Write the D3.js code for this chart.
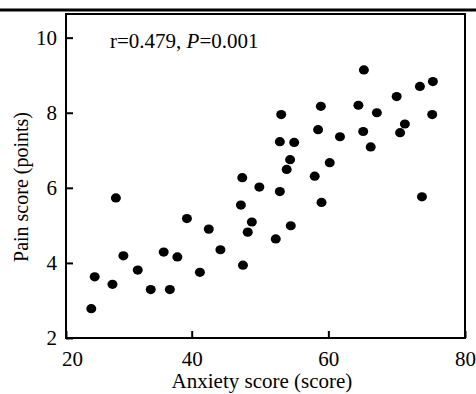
<!DOCTYPE html>
<html>
<head>
<meta charset="utf-8">
<script src="https://cdn.jsdelivr.net/npm/d3@7"></script>
<style>
  body { margin: 0; background: #fff; }
  svg text { font-family: "Liberation Serif", "Times New Roman", serif; fill: #000; }
</style>
</head>
<body>
<svg width="476" height="394"></svg>
<script>
// anxiety score (x) and pain score (y) for each patient
const anxiety = [25.3, 25.8, 28.4, 28.9, 30.0, 32.1, 34.0, 35.9, 36.8, 37.9,
  39.3, 41.2, 42.5, 44.2, 47.2, 47.4, 47.5, 48.2, 48.8, 49.9,
  52.3, 52.9, 53.1, 52.9, 53.9, 54.4, 54.5, 55.0, 58.0, 58.5,
  58.9, 59.0, 60.2, 61.7, 64.4, 65.1, 65.2, 66.2, 67.1, 70.0,
  73.7, 70.5, 71.2, 73.4, 75.3, 75.2];
const pain = [2.78, 3.63, 3.43, 5.73, 4.19, 3.81, 3.29, 4.29, 3.29, 4.16,
  5.18, 3.75, 4.90, 4.35, 5.54, 6.27, 3.94, 4.82, 5.09, 6.02,
  4.64, 7.23, 7.95, 5.90, 6.49, 6.75, 4.99, 7.21, 6.31, 7.55,
  8.17, 5.61, 6.67, 7.36, 8.20, 7.50, 9.14, 7.09, 8.00, 8.43,
  5.76, 7.47, 7.70, 8.70, 8.83, 7.95];

const xTicks = [20, 40, 60, 80];
const yTicks = [2, 4, 6, 8, 10];
const xTitle = "Anxiety score (score)";
const yTitle = "Pain score (points)";

const serif = "'Liberation Serif', 'Times New Roman', serif";
const svg = d3.select("svg");
const plotLeft = 66, plotRight = 465, plotTop = 14, plotBottom = 338;

// the x axis starts a bit after 20 in the original, so clamp the 20 tick
const x = d3.scaleLinear().domain([21.6, 80]).range([plotLeft, plotRight]).clamp(true);
const y = d3.scaleLinear().domain([2, 10.63]).range([plotBottom, plotTop]);

// thick rule across the top of the figure
svg.append("line")
  .attr("x1", 0).attr("x2", 476)
  .attr("y1", 10).attr("y2", 10)
  .attr("stroke", "#000").attr("stroke-width", 3);

const xAxis = svg.append("g")
  .attr("transform", `translate(0,${plotBottom})`)
  .call(d3.axisBottom(x).tickValues(xTicks).tickSizeInner(-7).tickSizeOuter(0).tickPadding(13));
xAxis.select(".domain").remove();
xAxis.attr("font-family", serif).attr("font-size", 21);
xAxis.selectAll("line").attr("stroke-width", 2);
xAxis.selectAll("text").attr("dx", (d) => (d === 20 ? 6 : 0));

const yAxis = svg.append("g")
  .attr("transform", `translate(${plotLeft},0)`)
  .call(d3.axisLeft(y).tickValues(yTicks).tickSizeInner(-7).tickSizeOuter(0).tickPadding(9));
yAxis.select(".domain").remove();
yAxis.attr("font-family", serif).attr("font-size", 21);
yAxis.selectAll("line").attr("stroke-width", 2);

// frame
svg.append("rect")
  .attr("x", plotLeft).attr("y", plotTop)
  .attr("width", plotRight - plotLeft).attr("height", plotBottom - plotTop)
  .attr("fill", "none").attr("stroke", "#000").attr("stroke-width", 2);

svg.append("g")
  .selectAll("ellipse")
  .data(anxiety.map((a, i) => [a, pain[i]]))
  .join("ellipse")
  .attr("cx", (d) => x(d[0]))
  .attr("cy", (d) => y(d[1]))
  .attr("rx", 5)
  .attr("ry", 4.6)
  .attr("fill", "#000");

const note = svg.append("text")
  .attr("x", 110).attr("y", 48)
  .attr("font-size", 21);
note.append("tspan").text("r=0.479, ");
note.append("tspan").attr("font-style", "italic").text("P");
note.append("tspan").text("=0.001");

svg.append("text")
  .attr("x", 262).attr("y", 388)
  .attr("text-anchor", "middle")
  .attr("font-size", 21)
  .text(xTitle);

svg.append("text")
  .attr("transform", "translate(28,187) rotate(-90)")
  .attr("text-anchor", "middle")
  .attr("font-size", 20)
  .text(yTitle);
</script>
</body>
</html>
